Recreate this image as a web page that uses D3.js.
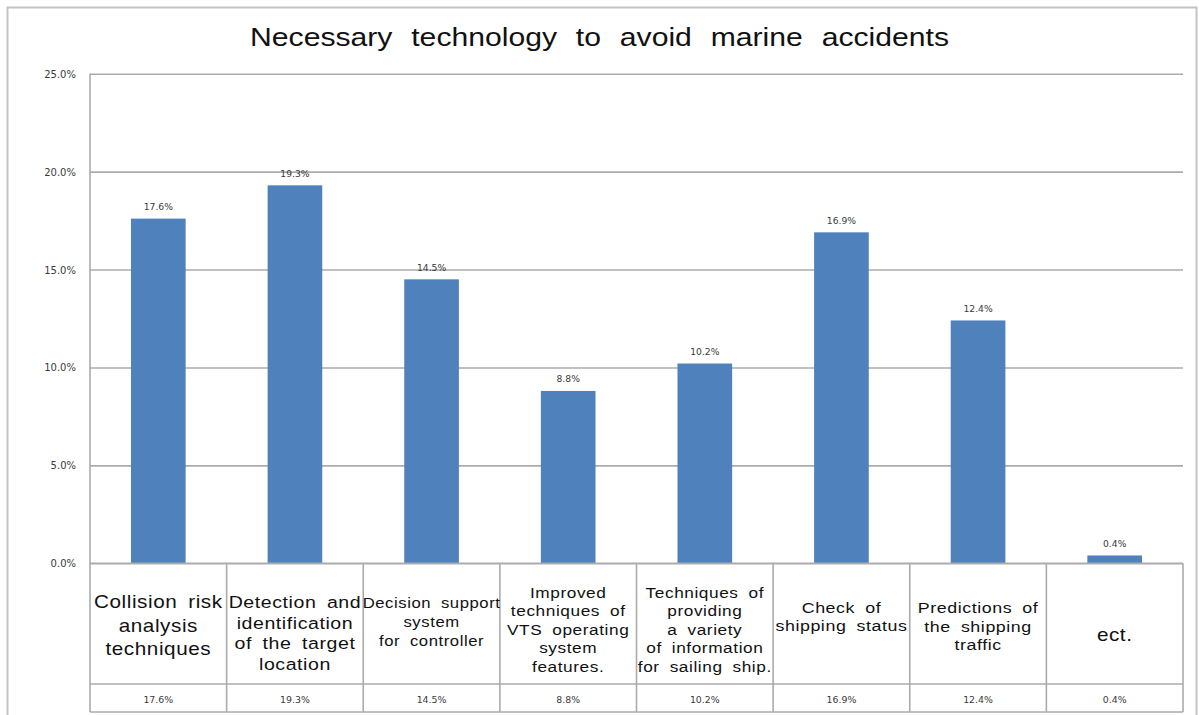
<!DOCTYPE html>
<html>
<head>
<meta charset="utf-8">
<script src="https://cdn.jsdelivr.net/npm/d3@7"></script>
<style>
  html, body { margin: 0; padding: 0; background: #fff; }
  svg { display: block; }
</style>
</head>
<body>
<svg id="chart" width="1199" height="715"></svg>
<script>
// ---- data ----
const chartTitle = "Necessary technology to avoid marine accidents";
const categories = [
  "Collision risk\nanalysis\ntechniques",
  "Detection and\nidentification\nof the target\nlocation",
  "Decision support\nsystem\nfor controller",
  "Improved\ntechniques of\nVTS operating\nsystem\nfeatures.",
  "Techniques of\nproviding\na variety\nof information\nfor sailing ship.",
  "Check of\nshipping status",
  "Predictions of\nthe shipping\ntraffic",
  "ect."
];
const shares = [17.6, 19.3, 14.5, 8.8, 10.2, 16.9, 12.4, 0.4];
const yTicks = [0, 5, 10, 15, 20, 25];

// ---- layout ----
const plotLeft = 90, plotRight = 1183, plotTop = 73.7, zeroY = 563.3;
const headerBottom = 684, tableBottom = 712;
const gridColor = "#ababab";
const barColor = "#4f81bd";
const smallFont = "'DejaVu Sans', Verdana, sans-serif";
const labelFont = "'Liberation Sans', Arial, sans-serif";

// per-column header text: font size, first baseline, line step
const headerStyle = [
  { size: 18,   first: 608, step: 23.5 },
  { size: 17,   first: 608, step: 20.7 },
  { size: 14.5, first: 608, step: 18.8 },
  { size: 15,   first: 598, step: 18.4 },
  { size: 15,   first: 598, step: 18.4 },
  { size: 15.5, first: 613, step: 18 },
  { size: 15.5, first: 613, step: 18.5 },
  { size: 18,   first: 641, step: 20 }
];

const svg = d3.select("#chart");

// outer frame
svg.append("rect")
  .attr("x", 7.5).attr("y", 7.5)
  .attr("width", 1189).attr("height", 730)
  .attr("fill", "none").attr("stroke", "#c4c4c4").attr("stroke-width", 2);

// title
svg.append("text")
  .attr("transform", "translate(599.5,46) scale(1.16,1)")
  .attr("text-anchor", "middle")
  .attr("font-family", labelFont)
  .attr("font-size", 26)
  .attr("word-spacing", 9)
  .attr("fill", "#111")
  .text(chartTitle);

// scales
const x = d3.scaleBand().domain(d3.range(categories.length)).range([plotLeft, plotRight]).padding(0);
const y = d3.scaleLinear().domain([0, 25]).range([zeroY, plotTop]);

// y axis with gridlines
const yAxis = d3.axisLeft(y)
  .tickValues(yTicks)
  .tickSize(-(plotRight - plotLeft))
  .tickPadding(14)
  .tickFormat(d => d.toFixed(1) + "%");

const gy = svg.append("g").attr("transform", `translate(${plotLeft},0)`).call(yAxis);
gy.select(".domain").remove();
gy.selectAll(".tick line").attr("stroke", gridColor).attr("stroke-width", 1.6);
gy.selectAll(".tick text")
  .attr("font-family", smallFont)
  .attr("font-size", 10)
  .attr("fill", "#3a3a3a")
  .attr("dy", "0.35em");

// bars
const barW = x.bandwidth() * 0.4;
svg.append("g").selectAll("rect")
  .data(shares)
  .join("rect")
  .attr("x", (d, i) => x(i) + (x.bandwidth() - barW) / 2)
  .attr("y", d => y(d))
  .attr("width", barW)
  .attr("height", d => y(0) - y(d))
  .attr("fill", barColor);

// value labels above bars
svg.append("g").selectAll("text")
  .data(shares)
  .join("text")
  .attr("x", (d, i) => x(i) + x.bandwidth() / 2)
  .attr("y", d => y(d) - 8.5)
  .attr("text-anchor", "middle")
  .attr("font-family", smallFont)
  .attr("font-size", 9.2)
  .attr("fill", "#3a3a3a")
  .text(d => d.toFixed(1) + "%");

// data table below the axis
const table = svg.append("g")
  .attr("stroke", gridColor).attr("stroke-width", 1.6).attr("fill", "none");
table.append("line").attr("x1", plotLeft).attr("x2", plotRight).attr("y1", y(0)).attr("y2", y(0));
table.append("line").attr("x1", plotLeft).attr("x2", plotRight).attr("y1", headerBottom).attr("y2", headerBottom);
table.append("line").attr("x1", plotLeft).attr("x2", plotRight).attr("y1", tableBottom).attr("y2", tableBottom);
table.selectAll("line.col")
  .data(d3.range(1, categories.length + 1))
  .join("line")
  .attr("class", "col")
  .attr("x1", i => x.step() * i + plotLeft).attr("x2", i => x.step() * i + plotLeft)
  .attr("y1", y(0)).attr("y2", tableBottom);
// left axis line running through the table
table.append("line").attr("x1", plotLeft).attr("x2", plotLeft).attr("y1", plotTop).attr("y2", tableBottom);

// category headers
const heads = svg.append("g")
  .attr("font-family", labelFont)
  .attr("fill", "#111")
  .attr("text-anchor", "middle");
categories.forEach((c, i) => {
  const st = headerStyle[i];
  const cx = x(i) + x.bandwidth() / 2;
  c.split("\n").forEach((line, k) => {
    heads.append("text")
      .attr("transform", `translate(${cx},${st.first + k * st.step}) scale(1.15,1)`)
      .attr("font-size", st.size)
      .attr("letter-spacing", 0.5)
      .attr("word-spacing", 4)
      .text(line);
  });
});

// value row
svg.append("g").selectAll("text")
  .data(shares)
  .join("text")
  .attr("x", (d, i) => x(i) + x.bandwidth() / 2)
  .attr("y", 703)
  .attr("text-anchor", "middle")
  .attr("font-family", smallFont)
  .attr("font-size", 9.4)
  .attr("fill", "#3a3a3a")
  .text(d => d.toFixed(1) + "%");
</script>
</body>
</html>
